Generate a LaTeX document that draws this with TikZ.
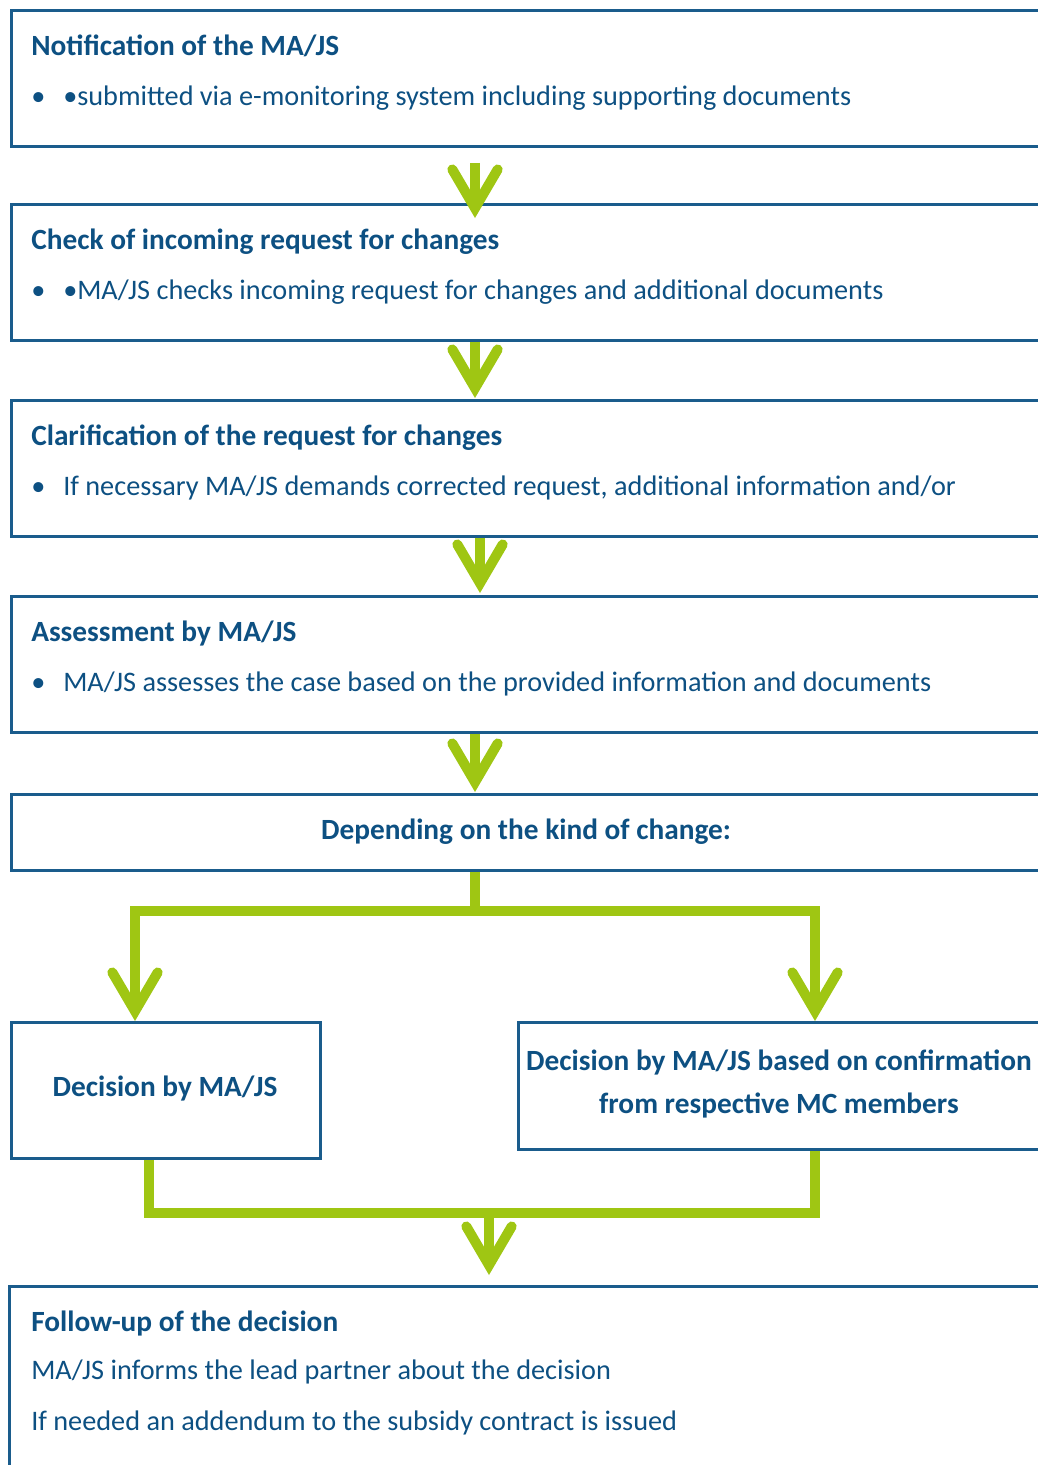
\documentclass[tikz,border=0pt]{standalone}
\usepackage{fontspec}
\setmainfont{Carlito}
\usetikzlibrary{arrows.meta}
\definecolor{bordc}{HTML}{1A5C8C}
\definecolor{txtc}{HTML}{0D5082}
\definecolor{grn}{HTML}{9FC613}
\newlength\pxu
\setlength\pxu{0.75pt}
\begin{document}
\begin{tikzpicture}[x=0.75pt,y=-0.75pt,
  boxs/.style={draw=bordc,line width=2.1pt,rectangle,inner sep=0pt,anchor=north west},
  txt/.style={text=txtc,font=\fontsize{21.2}{25}\selectfont,inner sep=0pt},
  hd/.style={txt,font=\fontsize{22}{26}\selectfont\bfseries},
  gline/.style={draw=grn,line width=7.5pt},
  garrow/.style={gline,-{Straight Barb[length=29pt,width=34pt,line cap=round,line join=miter]}}]
\useasboundingbox (0,0) rectangle (1038,1465);
\clip (0,0) rectangle (1038,1465);
% boxes
\node[boxs,minimum width=1040\pxu,minimum height=136\pxu] (b1) at (10,9) {};
\node[boxs,minimum width=1040\pxu,minimum height=136\pxu] (b2) at (10,203) {};
\node[boxs,minimum width=1040\pxu,minimum height=136\pxu] (b3) at (10,399) {};
\node[boxs,minimum width=1040\pxu,minimum height=136\pxu] (b4) at (10,595) {};
\node[boxs,minimum width=1040\pxu,minimum height=76\pxu] (b5) at (10,793) {};
\node[boxs,minimum width=309\pxu,minimum height=136\pxu] (dl) at (10,1021) {};
\node[boxs,minimum width=530\pxu,minimum height=127\pxu] (dr) at (517,1021) {};
\node[boxs,minimum width=1040\pxu,minimum height=200\pxu] (b6) at (8,1285) {};
% texts
\node[hd,anchor=base west] (t1h) at (31,55) {Notification of the MA/JS};
\node[txt,anchor=base west] (t1b) at (31,105) {\makebox[32\pxu][l]{•}\makebox[14\pxu][l]{•}submitted via e-monitoring system including supporting documents};
\node[hd,anchor=base west] (t2h) at (31,249) {Check of incoming request for changes};
\node[txt,anchor=base west] (t2b) at (31,299) {\makebox[32\pxu][l]{•}\makebox[14\pxu][l]{•}MA/JS checks incoming request for changes and additional documents};
\node[hd,anchor=base west] (t3h) at (31,445) {Clarification of the request for changes};
\node[txt,anchor=base west] (t3b) at (31,495) {\makebox[32\pxu][l]{•}If necessary MA/JS demands corrected request, additional information and/or};
\node[hd,anchor=base west] (t4h) at (31,641) {Assessment by MA/JS};
\node[txt,anchor=base west] (t4b) at (31,691) {\makebox[32\pxu][l]{•}MA/JS assesses the case based on the provided information and documents};
\node[hd,anchor=base] (t5) at (526,839) {Depending on the kind of change:};
\node[hd,anchor=base] (tdl) at (165,1096) {Decision by MA/JS};
\node[hd,anchor=base] (tdr1) at (779,1070) {Decision by MA/JS based on confirmation};
\node[hd,anchor=base] (tdr2) at (779,1113) {from respective MC members};
\node[hd,anchor=base west] (t6h) at (31,1331) {Follow-up of the decision};
\node[txt,anchor=base west] (t6a) at (31,1379) {MA/JS informs the lead partner about the decision};
\node[txt,anchor=base west] (t6b) at (31,1430) {If needed an addendum to the subsidy contract is issued};
% connector coordinates
\coordinate (c1) at (475,0);
\coordinate (c3) at (480,0);
\coordinate (sp) at (475,911);
\coordinate (lx) at (135,0);
\coordinate (rx) at (815,0);
\coordinate (jl) at (149,0);
\coordinate (jm) at (489,1213);
% arrows
\draw[garrow] ([yshift=-11.25pt]b1.south -| c1) -- ([yshift=-11.25pt]b2.north -| c1);
\draw[garrow] (b2.south -| c1) -- ([yshift=0.75pt]b3.north -| c1);
\draw[garrow] (b3.south -| c3) -- ([yshift=1.5pt]b4.north -| c3);
\draw[garrow] (b4.south -| c1) -- ([yshift=0.75pt]b5.north -| c1);
\draw[garrow] (b5.south -| sp) -- (sp) -| (dl.north -| lx);
\draw[garrow] (sp) -| (dr.north -| rx);
\draw[gline] (dl.south -| jl) |- (jm) -| (dr.south -| rx);
\draw[garrow] (jm) -- ([yshift=7.5pt]b6.north -| jm);
\end{tikzpicture}
\end{document}
